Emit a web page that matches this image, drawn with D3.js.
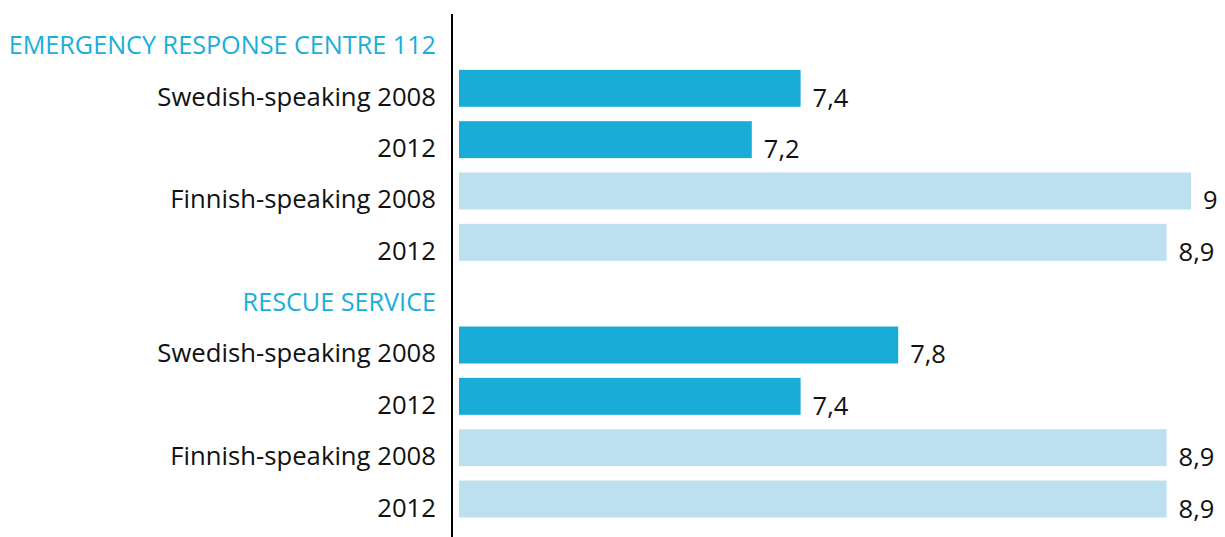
<!DOCTYPE html>
<html lang="en">
<head>
    <meta charset="UTF-8">
    <title>Emergency Response Centre 112 / Rescue Service</title>
    <script src="https://d3js.org/d3.v7.min.js"></script>
    <style>
        body { margin: 0; background: #fff; }
        svg text { font-family: "Open Sans", "Noto Sans", sans-serif; }
        .label { fill: #111; font-size: 25.7px; }
        .section { fill: #1aaed9; font-size: 25.2px; }
        .value { fill: #111; font-size: 25.5px; }
    </style>
</head>
<body>
    <svg width="1225" height="537"></svg>

    <script>
        // chart data
        const sections = ["EMERGENCY RESPONSE CENTRE 112", "RESCUE SERVICE"];
        const rowLabels = ["Swedish-speaking 2008", "2012", "Finnish-speaking 2008", "2012"];
        const rowLanguage = ["Swedish", "Swedish", "Finnish", "Finnish"];
        const emergencyValues = [7.4, 7.2, 9, 8.9];
        const rescueValues = [7.8, 7.4, 8.9, 8.9];
        const sectionValues = [emergencyValues, rescueValues];

        const colors = { Swedish: "#19acd7", Finnish: "#bde0f0" };

        const svg = d3.select("svg");
        const fmt = d3.formatLocale({ decimal: ",", thousands: " ", grouping: [3], currency: ["", "€"] }).format("~r");

        // build rows: a header row per section then its bars
        let rows = [];
        sections.forEach((s, si) => {
            rows.push({ key: "h" + si, type: "header", text: s });
            rowLabels.forEach((lab, i) => {
                rows.push({ key: "r" + si + "_" + i, type: "bar", text: lab, value: sectionValues[si][i], lang: rowLanguage[i] });
            });
        });

        const x = d3.scaleLinear().domain([6, 9]).range([459, 1191]);
        const y = d3.scaleBand()
            .domain(rows.map(d => d.key))
            .range([18.5, 517.5])
            .paddingInner(0.28)
            .paddingOuter(0);

        const bars = rows.filter(d => d.type === "bar");
        const headers = rows.filter(d => d.type === "header");

        svg.append("g")
            .selectAll("rect")
            .data(bars)
            .enter().append("rect")
            .attr("x", x(6))
            .attr("y", d => y(d.key))
            .attr("width", d => x(d.value) - x(6))
            .attr("height", y.bandwidth())
            .attr("fill", d => colors[d.lang]);

        // vertical axis line
        svg.append("line")
            .attr("x1", 452).attr("x2", 452)
            .attr("y1", 14).attr("y2", 537)
            .attr("stroke", "#000")
            .attr("stroke-width", 2);

        svg.append("g")
            .selectAll("text")
            .data(bars)
            .enter().append("text")
            .attr("class", "label")
            .attr("x", 436)
            .attr("y", d => y(d.key) + y.bandwidth() - 1)
            .attr("text-anchor", "end")
            .text(d => d.text);

        svg.append("g")
            .selectAll("text")
            .data(headers)
            .enter().append("text")
            .attr("class", "section")
            .attr("x", 436)
            .attr("y", d => y(d.key) + y.bandwidth() - 1)
            .attr("text-anchor", "end")
            .text(d => d.text);

        svg.append("g")
            .selectAll("text")
            .data(bars)
            .enter().append("text")
            .attr("class", "value")
            .attr("x", d => x(d.value) + 12)
            .attr("y", d => y(d.key) + y.bandwidth())
            .text(d => fmt(d.value));
    </script>
</body>
</html>
